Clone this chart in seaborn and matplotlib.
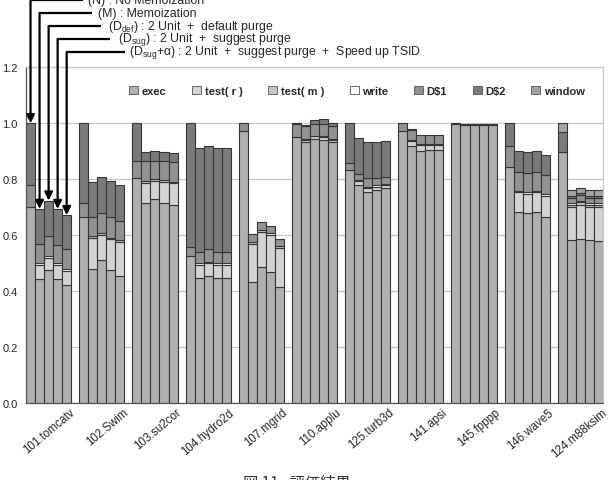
import numpy as np
import matplotlib
matplotlib.use("Agg")
import matplotlib.pyplot as plt
import seaborn as sns
from matplotlib.patches import Patch
from matplotlib.transforms import blended_transform_factory, ScaledTranslation

benchmarks = ["101.tomcatv", "102.Swim", "103.su2cor", "104.hydro2d", "107.mgrid",
              "110.applu", "125.turb3d", "141.apsi", "145.fpppp", "146.wave5", "124.m88ksim"]
configs = ["N", "M", "Ddef", "Dsug", "Dsug+a"]
series_names = ["exec", "test( r )", "test( m )", "write", r"D\$1", r"D\$2", "window"]

exec_t = [
    [0.700, 0.444, 0.477, 0.444, 0.422],
    [0.664, 0.481, 0.512, 0.476, 0.453],
    [0.804, 0.716, 0.729, 0.714, 0.708],
    [0.526, 0.447, 0.453, 0.447, 0.447],
    [0.974, 0.432, 0.488, 0.470, 0.414],
    [0.952, 0.932, 0.945, 0.940, 0.932],
    [0.833, 0.780, 0.754, 0.762, 0.770],
    [0.971, 0.918, 0.900, 0.905, 0.905],
    [0.998, 0.993, 0.994, 0.994, 0.994],
    [0.843, 0.682, 0.679, 0.682, 0.664],
    [0.896, 0.583, 0.587, 0.583, 0.580],
]
test_r = [
    [0, 0.050, 0.041, 0.050, 0.050],
    [0, 0.109, 0.090, 0.112, 0.122],
    [0, 0.071, 0.064, 0.076, 0.078],
    [0, 0.048, 0.048, 0.048, 0.048],
    [0, 0.137, 0.123, 0.132, 0.141],
    [0, 0.010, 0.008, 0.010, 0.010],
    [0, 0.015, 0.014, 0.012, 0.010],
    [0, 0.018, 0.022, 0.017, 0.017],
    [0, 0, 0, 0, 0],
    [0, 0.072, 0.068, 0.072, 0.077],
    [0, 0.117, 0.122, 0.117, 0.120],
]
test_m = [
    [0, 0, 0, 0, 0],
    [0, 0.009, 0.008, 0, 0.010],
    [0, 0.008, 0.007, 0.006, 0.006],
    [0, 0, 0, 0, 0],
    [0, 0.008, 0.009, 0, 0.008],
    [0, 0, 0, 0, 0],
    [0, 0, 0, 0, 0],
    [0, 0, 0, 0, 0],
    [0, 0, 0, 0, 0],
    [0, 0, 0, 0, 0],
    [0, 0.010, 0.010, 0.010, 0.010],
]
write = [
    [0, 0.006, 0.007, 0.006, 0.008],
    [0, 0, 0, 0.004, 0],
    [0, 0, 0, 0, 0],
    [0, 0.005, 0.005, 0.005, 0.005],
    [0, 0, 0, 0.006, 0],
    [0, 0.003, 0.003, 0.003, 0.003],
    [0, 0.004, 0.004, 0.004, 0.004],
    [0, 0.005, 0.005, 0.005, 0.005],
    [0, 0, 0, 0, 0],
    [0, 0.006, 0.006, 0.006, 0.005],
    [0, 0.005, 0.005, 0.005, 0.005],
]
dcache1 = [
    [0.080, 0.069, 0.074, 0.067, 0.070],
    [0.051, 0.065, 0.069, 0.072, 0.065],
    [0.060, 0.069, 0.066, 0.068, 0.069],
    [0.031, 0.039, 0.044, 0.039, 0.039],
    [0.026, 0.028, 0.026, 0.026, 0.024],
    [0.044, 0.046, 0.040, 0.043, 0.046],
    [0.025, 0.019, 0.032, 0.026, 0.024],
    [0.029, 0.035, 0.032, 0.030, 0.030],
    [0.002, 0, 0.003, 0.003, 0.003],
    [0.077, 0.067, 0.069, 0.067, 0.070],
    [0, 0.020, 0.020, 0.020, 0.020],
]
dcache2 = [
    [0.220, 0.125, 0.125, 0.127, 0.122],
    [0.285, 0.127, 0.128, 0.129, 0.130],
    [0.136, 0.035, 0.036, 0.035, 0.034],
    [0.443, 0.373, 0.368, 0.373, 0.373],
    [0, 0, 0, 0, 0],
    [0.004, 0.004, 0.017, 0.019, 0.009],
    [0.142, 0.128, 0.128, 0.130, 0.128],
    [0, 0.004, 0, 0, 0],
    [0, 0.005, 0, 0, 0],
    [0.080, 0.073, 0.074, 0.073, 0.072],
    [0.072, 0.007, 0.006, 0.007, 0.006],
]
window = [
    [0, 0, 0, 0, 0],
    [0, 0, 0, 0, 0],
    [0, 0, 0, 0, 0],
    [0, 0, 0, 0, 0],
    [0, 0, 0, 0, 0],
    [0, 0, 0, 0, 0],
    [0, 0, 0, 0, 0],
    [0, 0, 0, 0, 0],
    [0, 0, 0, 0, 0],
    [0, 0, 0, 0, 0],
    [0.032, 0.021, 0.019, 0.019, 0.020],
]

annot_labels = [
    "(N) : No Memoization",
    "(M) : Memoization",
    r"(D$_{\rm def}$) : 2 Unit  +  default purge",
    r"(D$_{\rm sug}$) : 2 Unit  +  suggest purge",
    r"(D$_{\rm sug}$+α) : 2 Unit  +  suggest purge  +  Speed up TSID",
]

layers = [exec_t, test_r, test_m, write, dcache1, dcache2, window]
colors = ["#b0b0b0", "#d3d3d3", "#c6c6c6", "#ffffff", "#929292", "#7a7a7a", "#a4a4a4"]

sns.set_style("white")
plt.rcParams["font.family"] = ["Liberation Sans", "DejaVu Sans"]
plt.rcParams["mathtext.fontset"] = "custom"
plt.rcParams["mathtext.rm"] = "Liberation Sans"
plt.rcParams["mathtext.it"] = "Liberation Sans"

W, H = 611, 481
fig = plt.figure(figsize=(W / 100, H / 100), dpi=100)
L, R, T, B = 26, 603, 68.3, 404.3
ax = fig.add_axes([L / W, 1 - B / H, (R - L) / W, (B - T) / H])

n_cfg = len(configs)
group_w = 0.85
bar_w = group_w / n_cfg
offsets = [-group_w / 2 + bar_w * (j + 0.5) for j in range(n_cfg)]
xs = np.arange(len(benchmarks))

totals = np.zeros((len(benchmarks), n_cfg))
for layer, col in zip(layers, colors):
    arr = np.array(layer, dtype=float)
    for j in range(n_cfg):
        sns.barplot(x=xs + offsets[j], y=arr[:, j], bottom=totals[:, j],
                    native_scale=True, width=bar_w, color=col, saturation=1,
                    edgecolor="#363636", linewidth=0.8, errorbar=None, ax=ax, zorder=2)
    totals += arr

for p in ax.patches:
    if p.get_height() == 0:
        p.set_visible(False)

ax.set_xlim(-0.425, len(benchmarks) - 1 + 0.425)
ax.set_ylim(0, 1.2)
ax.set_yticks(np.arange(0, 1.21, 0.2))
ax.set_yticklabels([f"{v:.1f}" for v in np.arange(0, 1.21, 0.2)], fontsize=8)
ax.yaxis.grid(True, color="#c8c8c8", lw=0.9, zorder=0)
ax.set_axisbelow(True)
ax.tick_params(axis="x", length=0, pad=2)
ax.tick_params(axis="y", length=0, pad=6)
ax.set_xticks(xs)
ax.set_xticklabels(benchmarks, rotation=40, ha="right", va="top",
                   rotation_mode="anchor", fontsize=8.3)
off = ScaledTranslation(0.21, 0.0, fig.dpi_scale_trans)
for lab in ax.get_xticklabels():
    lab.set_transform(lab.get_transform() + off)
ax.set_xlabel("")
ax.set_ylabel("")
for s in ["left", "bottom"]:
    ax.spines[s].set_color("#555555")
    ax.spines[s].set_linewidth(0.9)
for s in ["top", "right"]:
    ax.spines[s].set_color("#c8c8c8")
    ax.spines[s].set_linewidth(0.9)

# legend
handles = [Patch(facecolor=c, edgecolor="#555555", lw=0.6) for c in colors]
ax.legend(handles, series_names, ncol=7, loc="center",
          bbox_to_anchor=(357 / W, 1 - 92 / H), bbox_transform=fig.transFigure,
          frameon=False, prop={"weight": "bold", "size": 8},
          handlelength=0.8, handleheight=0.8, handletextpad=0.35, columnspacing=2.3)

# arrows and annotation texts
xl0, xl1 = ax.get_xlim()
def px2x(px):
    return xl0 + (px - L) / (R - L) * (xl1 - xl0)

trans = blended_transform_factory(ax.transData, fig.transFigure)
line_y_px = [1, 14, 27, 40, 53]
line_end_px = [83, 92, 101, 110, 125]
text_x_px = [88, 98, 108, 118, 129]
for j in range(n_cfg):
    xb = 0 + offsets[j]
    top = totals[0, j]
    yf = 1 - line_y_px[j] / H
    ax.annotate("", xy=(xb, top), xycoords="data", xytext=(xb, yf), textcoords=trans,
                arrowprops=dict(arrowstyle="-|>", lw=1.6, color="black",
                                shrinkA=0, shrinkB=0, mutation_scale=12),
                annotation_clip=False, zorder=5)
    ax.plot([xb, px2x(line_end_px[j])], [yf, yf], transform=trans, color="black",
            lw=1.6, clip_on=False, solid_capstyle="butt", zorder=5)
    ax.text(px2x(text_x_px[j]), yf, annot_labels[j], transform=trans,
            ha="left", va="center", fontsize=8.8, clip_on=False)

fig.text(297 / W, 1 - 475 / H, "図 11.  評価結果", ha="center", va="top",
         fontsize=11, family=["Noto Sans CJK JP", "DejaVu Sans"], color="#333333")

fig.savefig("out.png", dpi=100)
